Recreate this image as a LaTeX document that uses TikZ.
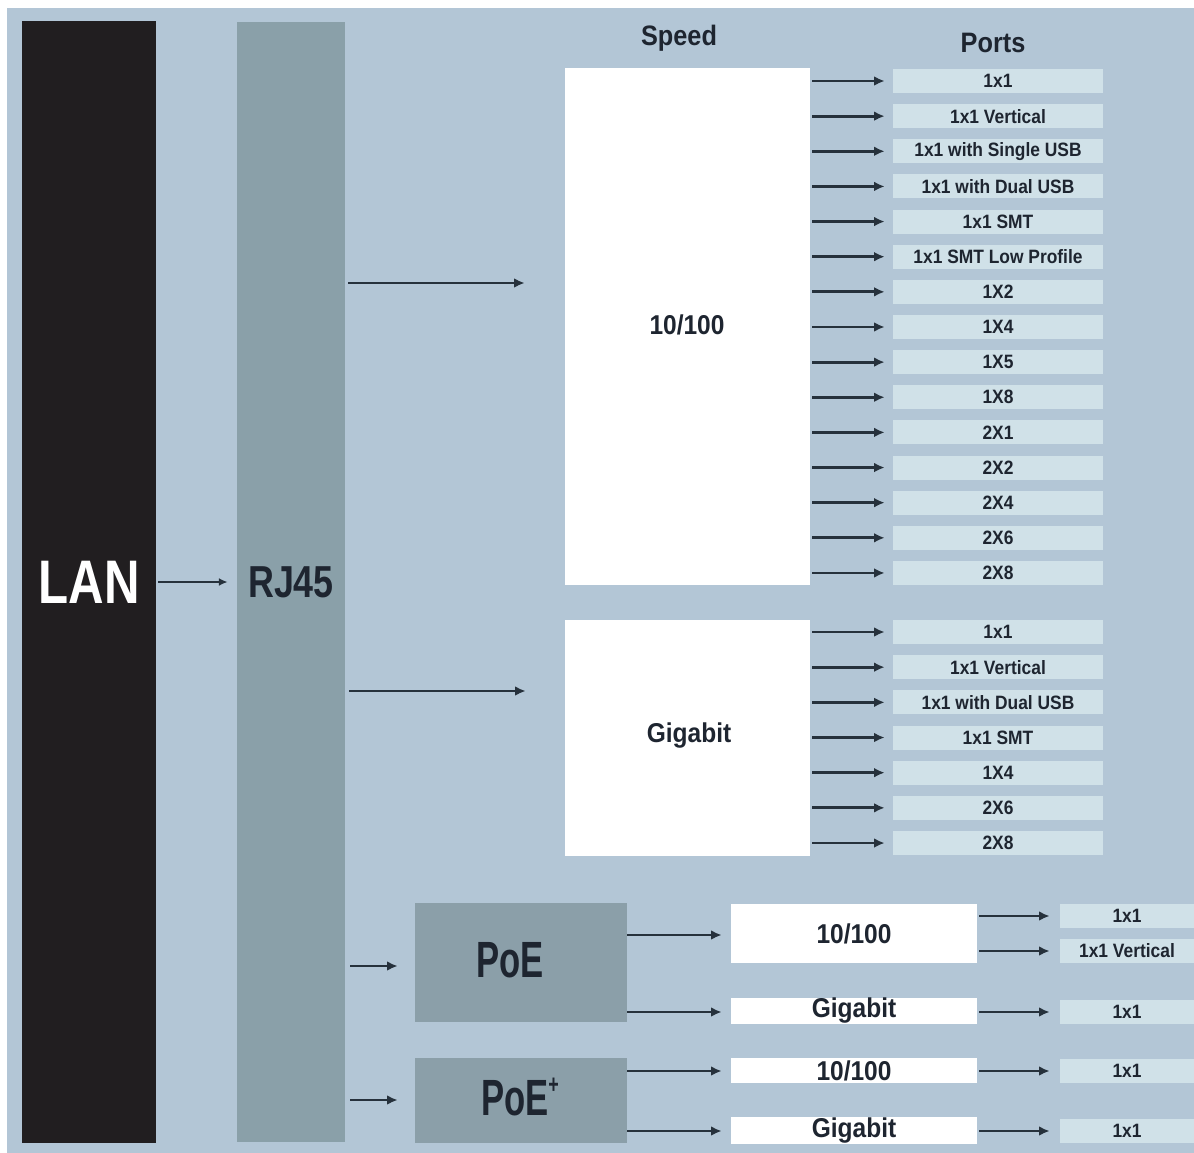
\documentclass[tikz,border=0pt]{standalone}
\usepackage{fontspec}
\setmainfont{Liberation Sans}
\newfontfamily\condA[FakeStretch=0.8]{Liberation Sans}
\newfontfamily\condB[FakeStretch=0.68]{Liberation Sans}
\newfontfamily\condC[FakeStretch=0.9]{Liberation Sans}
\usetikzlibrary{arrows.meta}
\definecolor{bgblue}{HTML}{B3C6D6}
\definecolor{lanblack}{HTML}{211E20}
\definecolor{rjgray}{HTML}{8AA0A9}
\definecolor{poegray}{HTML}{8B9FA9}
\definecolor{portblue}{HTML}{D0E1E8}
\definecolor{arrowc}{HTML}{26313C}
\definecolor{txtc}{HTML}{1E2530}
\tikzset{
  px/.style={x=0.02cm,y=-0.02cm},
  bar/.style={draw=none,inner sep=0pt},
  whitebox/.style={fill=white,draw=none,inner sep=0pt,text=txtc,font=\condC\bfseries\fontsize{15.5}{17}\selectfont},
  portbox/.style={fill=portblue,draw=none,inner sep=0pt,minimum height=0.48cm,text=txtc,font=\condC\bfseries\fontsize{11}{12}\selectfont},
  arr/.style={draw=arrowc,line width=1.6pt,-{Latex[length=6pt,width=5.5pt]}},
  thinarr/.style={draw=arrowc,line width=1.1pt,-{Latex[length=5pt,width=4.5pt]}},
  head/.style={text=txtc,font=\condC\bfseries\fontsize{16}{18}\selectfont,inner sep=0pt},
  poetxt/.style={text=txtc,font=\condB\bfseries\fontsize{29}{30}\selectfont,inner sep=0pt},
}
\begin{document}
\begin{tikzpicture}[px]
\useasboundingbox (0,0) rectangle (1194,1153);
\fill[white] (0,0) rectangle (1194,1153);
\fill[bgblue] (7,8) rectangle (1194,1153);

% main bars
\node[bar,fill=lanblack,minimum width=2.68cm,minimum height=22.44cm,text=white,font=\condA\bfseries\fontsize{35}{38}\selectfont] (lan) at (89,582) {LAN};
\node[bar,fill=rjgray,minimum width=2.16cm,minimum height=22.42cm,text=txtc,font=\condA\bfseries\fontsize{25.5}{28}\selectfont] (rj) at (291,582) {RJ45};
\draw[thinarr,shorten >=0.18cm,shorten <=0.04cm] (lan.east) -- (rj.west);

% headers
\node[head] (hspeed) at (679,38) {Speed};
\node[head] (hports) at (993,43) {Ports};

% speed boxes
\node[whitebox,minimum width=4.9cm,minimum height=10.34cm] (s1) at (687.5,326.5) {};
\node[whitebox] (s1t) at (687,325) {10/100};
\node[whitebox,minimum width=4.9cm,minimum height=4.72cm] (s2) at (687.5,738) {};
\node[whitebox] (s2t) at (689,736) {Gigabit};

\draw[arr,shorten <=0.06cm,shorten >=0.8cm] (rj.east |- 0,283) -- (s1.west |- 0,283);
\draw[arr,shorten <=0.08cm,shorten >=0.78cm] (rj.east |- 0,691) -- (s2.west |- 0,691);

% ports for 10/100
\foreach \t [count=\i from 0] in {1x1,1x1 Vertical,1x1 with Single USB,1x1 with Dual USB,1x1 SMT,1x1 SMT Low Profile,1X2,1X4,1X5,1X8,2X1,2X2,2X4,2X6,2X8}{
  \node[portbox,minimum width=4.2cm] (p\i) at (998,{81+35.14*\i}) {\t};
  \draw[arr,shorten <=0.04cm,shorten >=0.16cm] (s1.east |- p\i) -- (p\i.west);
}
% ports for Gigabit
\foreach \t [count=\i from 0] in {1x1,1x1 Vertical,1x1 with Dual USB,1x1 SMT,1X4,2X6,2X8}{
  \node[portbox,minimum width=4.2cm] (g\i) at (998,{632+35.17*\i}) {\t};
  \draw[arr,shorten <=0.04cm,shorten >=0.16cm] (s2.east |- g\i) -- (g\i.west);
}

% PoE blocks
\node[bar,fill=poegray,minimum width=4.24cm,minimum height=2.38cm] (poe) at (521,962.5) {};
\node[poetxt] (poet) at (510,960) {PoE};
\node[bar,fill=poegray,minimum width=4.24cm,minimum height=1.7cm] (poep) at (521,1100.5) {};
\node[poetxt] (poept) at (520,1097) {PoE\raisebox{0.45em}{\fontsize{15}{16}\selectfont +}};

\draw[arr,shorten <=0.1cm,shorten >=0.34cm] (rj.east |- 0,966) -- (poe.west |- 0,966);
\draw[arr,shorten <=0.1cm,shorten >=0.34cm] (rj.east |- 0,1100) -- (poep.west |- 0,1100);

% PoE speed boxes
\node[whitebox,minimum width=4.92cm,minimum height=1.18cm] (q1) at (854,933.5) {10/100};
\node[whitebox,minimum width=4.92cm,minimum height=0.48cm] (q2) at (854,1011) {Gigabit};
\node[whitebox,minimum width=4.92cm,minimum height=0.5cm] (q3) at (854,1070.5) {10/100};
\node[whitebox,minimum width=4.92cm,minimum height=0.54cm] (q4) at (854,1130.5) {Gigabit};

\draw[arr,shorten >=0.18cm] (poe.east |- 0,935) -- (q1.west |- 0,935);
\draw[arr,shorten >=0.18cm] (poe.east |- 0,1012) -- (q2.west |- 0,1012);
\draw[arr,shorten >=0.18cm] (poep.east |- 0,1071) -- (q3.west |- 0,1071);
\draw[arr,shorten >=0.18cm] (poep.east |- 0,1131) -- (q4.west |- 0,1131);

% PoE ports
\begin{scope}
\clip (0,0) rectangle (1194,1153);
\node[portbox,minimum width=2.68cm] (r1) at (1127,916) {1x1};
\node[portbox,minimum width=2.68cm] (r2) at (1127,951) {1x1 Vertical};
\node[portbox,minimum width=2.68cm] (r3) at (1127,1012) {1x1};
\node[portbox,minimum width=2.68cm] (r4) at (1127,1071) {1x1};
\node[portbox,minimum width=2.68cm] (r5) at (1127,1131) {1x1};
\end{scope}
\draw[arr,shorten <=0.04cm,shorten >=0.2cm] (q1.east |- r1) -- (r1.west);
\draw[arr,shorten <=0.04cm,shorten >=0.2cm] (q1.east |- r2) -- (r2.west);
\draw[arr,shorten <=0.04cm,shorten >=0.2cm] (q2.east |- r3) -- (r3.west);
\draw[arr,shorten <=0.04cm,shorten >=0.2cm] (q3.east |- r4) -- (r4.west);
\draw[arr,shorten <=0.04cm,shorten >=0.2cm] (q4.east |- r5) -- (r5.west);
\end{tikzpicture}
\end{document}
